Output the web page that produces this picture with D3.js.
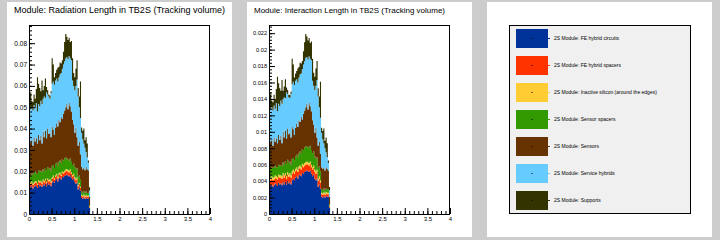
<!DOCTYPE html>
<html><head><meta charset="utf-8">
<script src="https://cdn.jsdelivr.net/npm/d3@7"></script>
<style>html,body{margin:0;padding:0;background:#cccccc;} svg{display:block;}</style>
</head><body><svg id="c" width="720" height="240"></svg>
<script>
// ---------- data ----------
const binLow = [0,0.025,0.05,0.075,0.1,0.125,0.15,0.175,0.2,0.225,
  0.25,0.275,0.3,0.325,0.35,0.375,0.4,0.425,0.45,0.475,
  0.5,0.525,0.55,0.575,0.6,0.625,0.65,0.675,0.7,0.725,
  0.75,0.775,0.8,0.825,0.85,0.875,0.9,0.925,0.95,0.975,
  1.0,1.025,1.05,1.075,1.1,1.125,1.15,1.175,1.2,1.225,
  1.25,1.275,1.3,1.325];
const binWidth = 0.025;

const seriesNames = [
  "2S Module: FE hybrid circuits",
  "2S Module: FE hybrid spacers",
  "2S Module: Inactive silicon (around the edges)",
  "2S Module: Sensor spacers",
  "2S Module: Sensors",
  "2S Module: Service hybrids",
  "2S Module: Supports"
];
const seriesKeys = ["circuits","spacers","inactive","sensorSpacers","sensors","serviceHybrids","supports"];
const seriesColors = ["#003399","#ff3300","#ffcc33","#339900","#663300","#66ccff","#333300"];

// Radiation length
const radCircuits = [0.0128,0.0125,0.0132,0.0120,0.0128,0.0135,0.0130,0.0122,0.0138,0.0130,
  0.0135,0.0126,0.0140,0.0132,0.0142,0.0130,0.0145,0.0136,0.0140,0.0130,
  0.0148,0.0155,0.0146,0.0158,0.0165,0.0152,0.0168,0.0170,0.0162,0.0175,
  0.0172,0.0178,0.0182,0.0185,0.0180,0.0176,0.0183,0.0170,0.0160,0.0166,
  0.0150,0.0142,0.0148,0.0115,0.0125,0.0108,0.0075,0.0072,0.0078,0.0070,
  0.0076,0.0072,0.0074,0.0028];
const radSpacers = [0.0012,0.0013,0.0014,0.0016,0.0014,0.0013,0.0015,0.0014,0.0014,0.0016,
  0.0015,0.0016,0.0016,0.0016,0.0016,0.0014,0.0015,0.0016,0.0016,0.0016,
  0.0016,0.0017,0.0016,0.0017,0.0017,0.0016,0.0016,0.0017,0.0016,0.0017,
  0.0017,0.0017,0.0018,0.0018,0.0018,0.0018,0.0018,0.0018,0.0016,0.0016,
  0.0016,0.0016,0.0016,0.0015,0.0015,0.0014,0.0010,0.0009,0.0009,0.0009,
  0.0009,0.0008,0.0008,0.0004];
const radInactive = [0.0006,0.0006,0.0006,0.0006,0.0006,0.0007,0.0007,0.0007,0.0006,0.0007,
  0.0006,0.0006,0.0006,0.0007,0.0007,0.0007,0.0007,0.0007,0.0007,0.0007,
  0.0007,0.0008,0.0007,0.0007,0.0007,0.0007,0.0007,0.0007,0.0007,0.0007,
  0.0007,0.0007,0.0008,0.0008,0.0008,0.0008,0.0008,0.0008,0.0007,0.0007,
  0.0007,0.0007,0.0007,0.0006,0.0006,0.0006,0.0005,0.0005,0.0005,0.0005,
  0.0005,0.0005,0.0005,0.0003];
const radSensorSpacers = [0.0029,0.0038,0.0038,0.0043,0.0047,0.0045,0.0038,0.0045,0.0047,0.0045,
  0.0046,0.0047,0.0048,0.0045,0.0050,0.0054,0.0053,0.0051,0.0052,0.0047,
  0.0054,0.0050,0.0046,0.0053,0.0051,0.0050,0.0054,0.0056,0.0055,0.0056,
  0.0054,0.0058,0.0057,0.0049,0.0049,0.0048,0.0051,0.0049,0.0047,0.0046,
  0.0047,0.0045,0.0044,0.0039,0.0034,0.0032,0.0015,0.0014,0.0016,0.0014,
  0.0015,0.0013,0.0013,0.0005];
const radSensors = [0.0175,0.0153,0.0155,0.0135,0.0165,0.0140,0.0165,0.0142,0.0165,0.0147,
  0.0163,0.0135,0.0175,0.0160,0.0175,0.0150,0.0180,0.0165,0.0165,0.0160,
  0.0185,0.0165,0.0155,0.0170,0.0185,0.0185,0.0195,0.0180,0.0215,0.0190,
  0.0220,0.0225,0.0235,0.0255,0.0235,0.0270,0.0245,0.0235,0.0210,0.0185,
  0.0160,0.0195,0.0145,0.0145,0.0160,0.0120,0.0115,0.0110,0.0107,0.0107,
  0.0115,0.0112,0.0105,0.0040];
const radServiceHybrids = [0.0155,0.0155,0.0155,0.0165,0.0150,0.0155,0.0165,0.0150,0.0145,0.0160,
  0.0165,0.0185,0.0155,0.0190,0.0155,0.0215,0.0160,0.0175,0.0160,0.0205,
  0.0200,0.0225,0.0235,0.0220,0.0210,0.0210,0.0200,0.0225,0.0205,0.0235,
  0.0230,0.0230,0.0230,0.0220,0.0235,0.0220,0.0225,0.0240,0.0185,0.0180,
  0.0200,0.0195,0.0270,0.0230,0.0160,0.0170,0.0160,0.0140,0.0115,0.0105,
  0.0070,0.0055,0.0035,0.0030];
const radSupports = [0.0050,0.0080,0.0030,0.0040,0.0050,0.0045,0.0065,0.0160,0.0095,0.0085,
  0.0045,0.0110,0.0040,0.0050,0.0090,0.0025,0.0020,0.0010,0.0015,0.0010,
  0.0120,0.0080,0.0035,0.0035,0.0040,0.0065,0.0050,0.0055,0.0045,0.0040,
  0.0060,0.0090,0.0113,0.0095,0.0090,0.0085,0.0075,0.0090,0.0105,0.0060,
  0.0060,0.0080,0.0090,0.0040,0.0050,0.0170,0.0025,0.0040,0.0070,0.0035,
  0.0070,0.0065,0.0010,0.0015];

// Interaction length
const intCircuits = [0.0035,0.0034,0.0036,0.0033,0.0035,0.0037,0.0036,0.0034,0.0038,0.0036,
  0.0037,0.0035,0.0039,0.0036,0.0039,0.0036,0.0040,0.0037,0.0039,0.0036,
  0.0041,0.0043,0.0041,0.0044,0.0046,0.0043,0.0047,0.0048,0.0046,0.0050,
  0.0049,0.0051,0.0052,0.0053,0.0052,0.0051,0.0053,0.0049,0.0046,0.0048,
  0.0043,0.0041,0.0043,0.0033,0.0036,0.0031,0.0021,0.0020,0.0022,0.0020,
  0.0022,0.0021,0.0021,0.0008];
const intSpacers = [0.0007,0.0007,0.0007,0.0008,0.0007,0.0007,0.0007,0.0008,0.0007,0.0008,
  0.0007,0.0008,0.0008,0.0008,0.0008,0.0007,0.0008,0.0008,0.0008,0.0008,
  0.0008,0.0008,0.0008,0.0008,0.0008,0.0008,0.0008,0.0008,0.0008,0.0008,
  0.0008,0.0008,0.0008,0.0008,0.0008,0.0008,0.0008,0.0008,0.0008,0.0008,
  0.0008,0.0008,0.0008,0.0007,0.0007,0.0007,0.0003,0.0003,0.0003,0.0003,
  0.0003,0.0003,0.0003,0.0001];
const intInactive = [0.0003,0.0003,0.0003,0.0003,0.0003,0.0003,0.0003,0.0003,0.0003,0.0003,
  0.0003,0.0003,0.0003,0.0003,0.0003,0.0003,0.0003,0.0003,0.0003,0.0003,
  0.0003,0.0003,0.0003,0.0003,0.0003,0.0003,0.0003,0.0003,0.0003,0.0003,
  0.0003,0.0003,0.0003,0.0003,0.0003,0.0003,0.0003,0.0003,0.0003,0.0003,
  0.0003,0.0003,0.0003,0.0003,0.0003,0.0003,0.0002,0.0002,0.0002,0.0002,
  0.0002,0.0002,0.0002,0.0001];
const intSensorSpacers = [0.0010,0.0011,0.0011,0.0012,0.0012,0.0012,0.0011,0.0012,0.0012,0.0012,
  0.0012,0.0013,0.0013,0.0013,0.0014,0.0015,0.0015,0.0014,0.0014,0.0013,
  0.0015,0.0014,0.0013,0.0015,0.0015,0.0015,0.0016,0.0017,0.0017,0.0018,
  0.0018,0.0019,0.0019,0.0018,0.0018,0.0019,0.0019,0.0018,0.0017,0.0017,
  0.0016,0.0015,0.0015,0.0013,0.0012,0.0011,0.0004,0.0004,0.0004,0.0004,
  0.0004,0.0004,0.0004,0.0002];
const intSensors = [0.0036,0.0032,0.0033,0.0027,0.0036,0.0029,0.0035,0.0029,0.0036,0.0031,
  0.0036,0.0027,0.0037,0.0033,0.0037,0.0031,0.0038,0.0035,0.0035,0.0033,
  0.0039,0.0035,0.0031,0.0035,0.0038,0.0037,0.0040,0.0036,0.0044,0.0036,
  0.0044,0.0045,0.0048,0.0052,0.0046,0.0054,0.0048,0.0047,0.0040,0.0033,
  0.0029,0.0038,0.0024,0.0027,0.0030,0.0021,0.0027,0.0026,0.0025,0.0024,
  0.0026,0.0025,0.0023,0.0009];
const intServiceHybrids = [0.0040,0.0040,0.0040,0.0043,0.0039,0.0040,0.0043,0.0039,0.0038,0.0041,
  0.0043,0.0048,0.0040,0.0049,0.0040,0.0056,0.0042,0.0045,0.0042,0.0053,
  0.0052,0.0058,0.0061,0.0057,0.0054,0.0054,0.0052,0.0058,0.0053,0.0061,
  0.0060,0.0060,0.0060,0.0057,0.0061,0.0057,0.0058,0.0062,0.0048,0.0047,
  0.0052,0.0051,0.0070,0.0060,0.0042,0.0044,0.0042,0.0036,0.0030,0.0027,
  0.0018,0.0014,0.0009,0.0008];
const intSupports = [0.0013,0.0021,0.0008,0.0010,0.0013,0.0012,0.0017,0.0042,0.0025,0.0022,
  0.0012,0.0029,0.0010,0.0013,0.0023,0.0006,0.0005,0.0003,0.0004,0.0003,
  0.0031,0.0021,0.0009,0.0009,0.0010,0.0017,0.0013,0.0014,0.0012,0.0010,
  0.0016,0.0023,0.0029,0.0025,0.0023,0.0022,0.0019,0.0023,0.0027,0.0016,
  0.0016,0.0021,0.0023,0.0010,0.0013,0.0044,0.0006,0.0010,0.0018,0.0009,
  0.0018,0.0017,0.0003,0.0004];

const xTickValues = [0,0.5,1,1.5,2,2.5,3,3.5,4];
const xTickLabels = ["0","0.5","1","1.5","2","2.5","3","3.5","4"];
const radYTicks = [0,0.01,0.02,0.03,0.04,0.05,0.06,0.07,0.08];
const radYLabels = ["0","0.01","0.02","0.03","0.04","0.05","0.06","0.07","0.08"];
const intYTicks = [0,0.002,0.004,0.006,0.008,0.01,0.012,0.014,0.016,0.018,0.02,0.022];
const intYLabels = ["0","0.002","0.004","0.006","0.008","0.01","0.012","0.014","0.016","0.018","0.02","0.022"];

const titles = ["Module: Radiation Length in TB2S (Tracking volume)",
                "Module: Interaction Length in TB2S (Tracking volume)"];

// ---------- drawing ----------
const svg = d3.select("#c");
svg.append("rect").attr("width",720).attr("height",240).attr("fill","#cccccc");

const FONT = "'Liberation Sans', Arial, Helvetica, sans-serif";

function drawChart(ox, title, titleSize, titleLen, series, yTicks, yLabels, yMinorStep, yLabelSize) {
  const g = svg.append("g");
  g.append("rect").attr("x",ox).attr("y",2).attr("width",225).attr("height",235).attr("fill","#ffffff");
  const L = ox + 22, R = ox + 203, T = 25, B = 214;

  const rows = binLow.map((x,i) => {
    const o = {x: x};
    seriesKeys.forEach((k,j) => o[k] = series[j][i]);
    return o;
  });
  const total = d3.max(rows, r => d3.sum(seriesKeys, k => r[k]));
  const x = d3.scaleLinear().domain([0,4]).range([L,R]);
  const y = d3.scaleLinear().domain([0,total*1.05]).range([B,T]);

  const stacked = d3.stack().keys(seriesKeys)(rows);
  const area = d3.area()
    .curve(d3.curveStepAfter)
    .x(d => x(d.x))
    .y0(d => y(d[0]))
    .y1(d => y(d[1]));
  stacked.forEach((s,j) => {
    const pts = s.map(d => { const p = [d[0],d[1]]; p.x = d.data.x; return p; });
    const last = s[s.length-1];
    const end = [last[0], last[1]]; end.x = last.data.x + binWidth;
    pts.push(end);
    g.append("path").attr("d", area(pts)).attr("fill", seriesColors[j]).attr("stroke","none");
  });

  // frame
  g.append("rect").attr("x",L+0.5).attr("y",T+0.5).attr("width",R-L-1).attr("height",B-T)
    .attr("fill","none").attr("stroke","#000").attr("stroke-width",1);

  // x axis
  const xMinor = d3.range(0, 4.0001, 0.1).map(v => +v.toFixed(2));
  const xaMin = g.append("g").attr("transform",`translate(0,${B})`)
    .call(d3.axisBottom(x).tickValues(xMinor).tickSize(-3).tickFormat(""));
  const xaMaj = g.append("g").attr("transform",`translate(0,${B})`)
    .call(d3.axisBottom(x).tickValues(xTickValues).tickSize(-6).tickPadding(3)
      .tickFormat((d,i) => xTickLabels[i]));
  // y axis
  const yMax = y.domain()[1];
  const yMinor = d3.range(0, yMax, yMinorStep).map(v => +v.toFixed(5));
  const yaMin = g.append("g").attr("transform",`translate(${L},0)`)
    .call(d3.axisLeft(y).tickValues(yMinor).tickSize(-3).tickFormat(""));
  const yaMaj = g.append("g").attr("transform",`translate(${L},0)`)
    .call(d3.axisLeft(y).tickValues(yTicks).tickSize(-6).tickPadding(2)
      .tickFormat((d,i) => yLabels[i]));
  [xaMin,xaMaj,yaMin,yaMaj].forEach(a => {
    a.select(".domain").remove();
    a.selectAll("line").attr("stroke","#000");
  });
  xaMaj.selectAll("text").attr("font-family",FONT).attr("font-size",6).attr("fill","#000");
  yaMaj.selectAll("text").attr("font-family",FONT).attr("font-size",yLabelSize).attr("fill","#000");

  g.append("text").attr("x",ox+7).attr("y",13).attr("font-family",FONT)
    .attr("font-size",titleSize).attr("textLength",titleLen).attr("lengthAdjust","spacing")
    .attr("fill","#000").text(title);
}

drawChart(7, titles[0], 9, 211,
  [radCircuits,radSpacers,radInactive,radSensorSpacers,radSensors,radServiceHybrids,radSupports],
  radYTicks, radYLabels, 0.002, 6.5);
drawChart(247, titles[1], 8, 191,
  [intCircuits,intSpacers,intInactive,intSensorSpacers,intSensors,intServiceHybrids,intSupports],
  intYTicks, intYLabels, 0.0004, 5.6);

// legend panel
const lg = svg.append("g");
lg.append("rect").attr("x",487).attr("y",2).attr("width",225).attr("height",235).attr("fill","#ffffff");
lg.append("rect").attr("x",509.5).attr("y",25.5).attr("width",181).attr("height",188)
  .attr("fill","#f0f0f0").attr("stroke","#000").attr("stroke-width",1);
const ly = d3.scalePoint().domain(seriesNames).range([38.5, 200.5]);
seriesNames.forEach((name,i) => {
  const cy = ly(name);
  lg.append("rect").attr("x",516).attr("y",cy-9.5).attr("width",32).attr("height",19).attr("fill",seriesColors[i]);
  lg.append("rect").attr("x",531.5).attr("y",cy-0.5).attr("width",1).attr("height",1).attr("fill","#000");
  lg.append("rect").attr("x",548).attr("y",cy-0.5).attr("width",2).attr("height",1).attr("fill",seriesColors[i]);
  lg.append("text").attr("x",554).attr("y",cy).attr("dy","0.35em").attr("font-family",FONT)
    .attr("font-size",5).attr("fill","#000").text(name);
});
</script></body></html>
